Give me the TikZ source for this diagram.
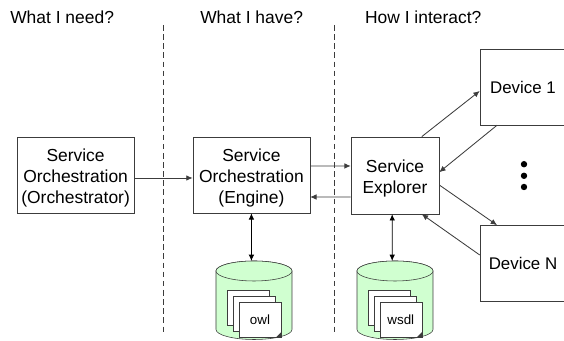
\documentclass[tikz,border=0pt]{standalone}
\usepackage{fontspec}
\setmainfont{Liberation Sans}
\usetikzlibrary{arrows.meta}
\definecolor{storegreen}{RGB}{208,255,208}
\definecolor{edgegray}{RGB}{60,60,60}
\tikzset{
>={Latex[length=4.5pt,width=4pt]},
box/.style={draw=edgegray, fill=white, align=center, inner sep=0pt, font=\fontsize{12.4}{15}\selectfont},
service/.style={box, minimum width=2.925cm, minimum height=1.9cm, text height=43.5pt},
device/.style={box, minimum width=2.15cm, minimum height=1.9cm, font=\fontsize{12}{15}\selectfont},
heading/.style={anchor=base west, inner sep=0pt, font=\fontsize{12.4}{15}\selectfont},
divider/.style={dashed, draw=edgegray, dash pattern=on 4pt off 2.5pt, thin},
link/.style={->, draw=edgegray, semithick},
linkboth/.style={<->, draw=black, semithick},
store/.style={draw=edgegray, fill=storegreen},
sheet/.style={draw=edgegray, fill=white, minimum width=1.05cm, minimum height=.875cm, inner sep=0pt, font=\fontsize{9.5}{11}\selectfont},
dot/.style={circle, fill=black, inner sep=0pt, minimum size=.16cm},
}

\begin{document}
\begin{tikzpicture}
    \useasboundingbox (0,0) rectangle (14.1,8.525);
    \node[heading] (need) at (.25,7.93) {What I need?};
    \node[heading] (have) at (5,7.93) {What I have?};
    \node[heading] (interact) at (9.12,7.93) {How I interact?};
    \coordinate (divone) at (4.08,7.9);
    \coordinate (divoneend) at (4.08,.22);
    \coordinate (divtwo) at (8.35,7.9);
    \coordinate (divtwoend) at (8.35,.22);
    \draw[divider] (divone) to (divoneend);
    \draw[divider] (divtwo) to (divtwoend);
    % boxes
    \node[service] (orchestrator) at (1.89,4.15) {Service\\Orchestration\\(Orchestrator)};
    \node[service] (engine) at (6.285,4.15) {Service\\Orchestration\\(Engine)};
    \node[service, minimum width=2.2cm, minimum height=1.925cm, text height=28.5pt] (explorer) at (9.875,4.14) {Service\\Explorer};
    \node[device] (deviceone) at (13.075,6.35) {Device 1};
    \node[device] (devicen) at (13.075,1.94) {Device N};
    \node[dot] (dotone) at (13.1,4.42) {};
    \node[dot] (dottwo) at (13.1,4.13) {};
    \node[dot] (dotthree) at (13.1,3.85) {};
    % stores
    \draw[store] (5.4,1.75) -- (5.4,.2875) arc (180:360:.95 and .25) -- (7.3,1.75) arc (0:180:.95 and .25) -- cycle;
    \draw[store] (6.35,1.75) ellipse (.95 and .25);
    \draw[store] (8.925,1.75) -- (8.925,.2875) arc (180:360:.95 and .25) -- (10.825,1.75) arc (0:180:.95 and .25) -- cycle;
    \draw[store] (9.875,1.75) ellipse (.95 and .25);
    \coordinate (owltop) at (6.285,2);
    \coordinate (wsdltop) at (9.805,2);
    \node[sheet] (owlback) at (6.2125,.825) {};
    \node[sheet] (owlmid) at (6.35,.6875) {};
    \node[sheet] (owlfront) at (6.5,.5375) {owl};
    \node[sheet] (wsdlback) at (9.73,.825) {};
    \node[sheet] (wsdlmid) at (9.87,.6875) {};
    \node[sheet] (wsdlfront) at (10.02,.5375) {wsdl};
    \fill[edgegray] (owlfront.south east) -- ++(-.13,0) -- ++(.13,.13) -- cycle;
    \fill[edgegray] (wsdlfront.south east) -- ++(-.13,0) -- ++(.13,.13) -- cycle;
    % connectors
    \draw[link] ([yshift=-.075cm]orchestrator.east) to ([yshift=-.075cm]engine.west);
    \draw[link] ([yshift=.225cm]engine.east) to ([yshift=.235cm]explorer.west);
    \draw[link] ([yshift=-.54cm]explorer.west) to ([yshift=-.55cm]engine.east);
    \draw[linkboth] (engine.south) to (owltop);
    \draw[linkboth] ([xshift=-.07cm]explorer.south) to (wsdltop);
    \draw[link] ([xshift=.67cm]explorer.north) to ([yshift=-.1cm]deviceone.west);
    \draw[link] ([xshift=-.65cm]deviceone.south) to ([yshift=.08cm]explorer.east);
    \draw[link] ([yshift=-.24cm]explorer.east) to ([xshift=-.65cm]devicen.north);
    \draw[link] ([yshift=.21cm]devicen.west) to ([xshift=.67cm]explorer.south);
\end{tikzpicture}
\end{document}
